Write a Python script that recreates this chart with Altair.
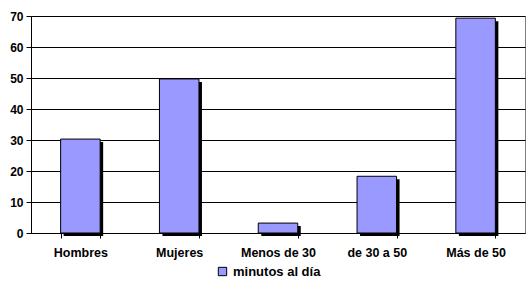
import altair as alt
import pandas as pd

categories = ["Hombres", "Mujeres", "Menos de 30", "de 30 a 50", "Más de 50"]
values = [30.3, 49.7, 3.2, 18.3, 69.3]
series = "minutos al día"

df = pd.DataFrame({"cat": categories, "val": values, "serie": [series] * len(categories)})

x = alt.X("cat:N", sort=categories, title=None,
          scale=alt.Scale(paddingInner=0.6, paddingOuter=0.3),
          axis=alt.Axis(labelAngle=0, labelFont="Liberation Sans", labelFontWeight="bold",
                        labelFontSize=12.5, labelColor="black", domainColor="black",
                        tickColor="black", tickSize=5, tickBand="extent", labelPadding=8,
                        grid=False))
y = alt.Y("val:Q", title=None,
          scale=alt.Scale(domain=[0, 70]),
          axis=alt.Axis(values=list(range(0, 71, 10)), labelFont="Liberation Sans",
                        labelFontWeight="bold", labelFontSize=12, labelColor="black",
                        domainColor="black", tickColor="black", tickSize=5,
                        gridColor="black", gridWidth=1, gridOpacity=1, labelPadding=3))

shadow = alt.Chart(df).mark_bar(color="black", xOffset=3, x2Offset=3, yOffset=3,
                                y2Offset=0.01).encode(x=x, y=y)
bars = alt.Chart(df).mark_bar(stroke="black", strokeWidth=1).encode(
    x=x, y=y,
    color=alt.Color("serie:N", scale=alt.Scale(range=["#9999FF"]),
                    legend=alt.Legend(title=None, orient="none", legendX=185, legendY=249,
                                      symbolType="square", symbolSize=70,
                                      symbolStrokeColor="black", symbolStrokeWidth=1,
                                      labelOffset=4,
                                      labelFont="Liberation Sans", labelFontWeight="bold",
                                      labelFontSize=13, labelColor="black"))
)

chart = (shadow + bars).properties(
    width=494, height=217,
    autosize="none",
    padding={"left": 31, "top": 16, "right": 5, "bottom": 55},
    background="white",
).configure_view(stroke="#808080", strokeWidth=1)

chart.save("out.html", embed_options={"renderer": "svg", "actions": False})
